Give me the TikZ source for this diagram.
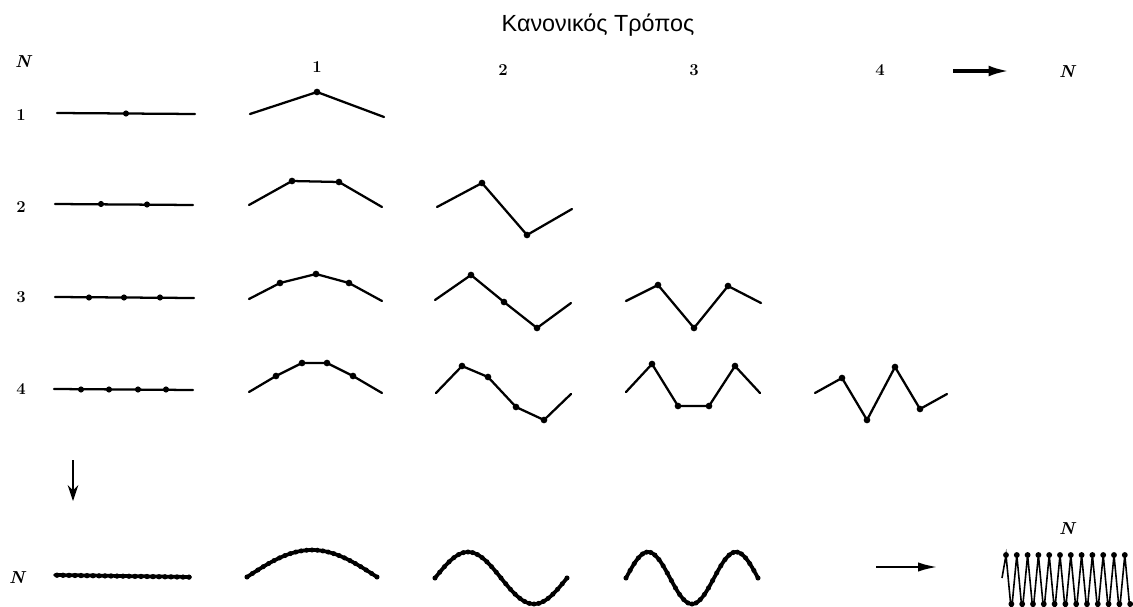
\documentclass[tikz,border=0pt]{standalone}
\usepackage{fontspec}
\newfontfamily\greekfont{Liberation Sans}
\usetikzlibrary{arrows.meta}
\begin{document}
\begin{tikzpicture}[x=0.75pt,y=-0.75pt,
  str/.style={line width=1.7pt,line join=round,line cap=round},
  cont/.style={line width=2.8pt,line join=round,line cap=round},
  zig/.style={line width=1.2pt,line join=miter},
  lab/.style={font=\fontsize{12.5}{15}\selectfont\bfseries,inner sep=0pt},
  nlab/.style={font=\fontsize{13}{15}\selectfont\bfseries\itshape,inner sep=0pt},
  bigarrow/.style={line width=2.8pt,-{Latex[length=16pt,width=8pt]}},
  smallarrow/.style={line width=2pt,-{Latex[length=15pt,width=7pt]}},
  downarrow/.style={line width=1pt,-{Stealth[length=12pt,width=8pt,inset=4pt]}}
]
\useasboundingbox (0,0) rectangle (1133,607);
% title
\node[font=\greekfont\fontsize{17.5}{19}\selectfont,inner sep=0pt,anchor=base] (title) at (598,31) {Κανονικός Τρόπος};
% headers
\node[nlab] (hN) at (23,62) {N};
\node[lab] (h1) at (317,67) {1};
\node[lab] (h2) at (503,70) {2};
\node[lab] (h3) at (694,70) {3};
\node[lab] (h4) at (880,70) {4};
\coordinate (ta) at (953,71);
\coordinate (tb) at (1010,71);
\draw[bigarrow] (ta) -- (tb);
\node[nlab] (hNr) at (1067,72) {N};
% row labels
\node[lab] (r1) at (21,115) {1};
\node[lab] (r2) at (21,207) {2};
\node[lab] (r3) at (21,297) {3};
\node[lab] (r4) at (21,389) {4};
\node[nlab] (rN) at (17,578) {N};
% down arrow
\coordinate (da) at (73,460);
\coordinate (db) at (73,501);
\draw[downarrow] (da) -- (db);

% row 1
\draw[str] (57,113) -- (195,114);
\fill (126,113.5) circle (2.3pt);
\draw[str] (250,114) -- (317,92) -- (384,117);
\fill (317,92) circle (2.5pt);

% row 2
\draw[str] (55,204) -- (193,205);
\foreach \p in {(101,204),(147,204.5)} \fill \p circle (2.3pt);
\draw[str] (249,205) -- (292,181) -- (339,182) -- (382,207);
\foreach \p in {(292,181),(339,182)} \fill \p circle (2.5pt);
\draw[str] (437,207) -- (482,183) -- (527,235) -- (572,209);
\foreach \p in {(482,183),(527,235)} \fill \p circle (2.5pt);

% row 3
\draw[str] (55,297) -- (194,298);
\foreach \x in {89,124,160} \fill (\x,297.5) circle (2.3pt);
\draw[str] (249,299) -- (280,283) -- (316,274) -- (349,283) -- (382,301);
\foreach \p in {(280,283),(316,274),(349,283)} \fill \p circle (2.5pt);
\draw[str] (435,300) -- (471,275) -- (504,302) -- (537,328) -- (571,303);
\foreach \p in {(471,275),(504,302),(537,328)} \fill \p circle (2.5pt);
\draw[str] (626,301) -- (658,285) -- (694,328) -- (728,286) -- (761,303);
\foreach \p in {(658,285),(694,328),(728,286)} \fill \p circle (2.5pt);

% row 4
\draw[str] (54,389) -- (193,390);
\foreach \x in {81,109,138,166} \fill (\x,389.5) circle (2.3pt);
\draw[str] (249,392) -- (276,376) -- (302,363) -- (327,363) -- (353,376) -- (382,393);
\foreach \p in {(276,376),(302,363),(327,363),(353,376)} \fill \p circle (2.5pt);
\draw[str] (436,393) -- (462,366) -- (488,377) -- (516,407) -- (544,420) -- (571,394);
\foreach \p in {(462,366),(488,377),(516,407),(544,420)} \fill \p circle (2.5pt);
\draw[str] (626,392) -- (652,364) -- (678,406) -- (709,406) -- (735,366) -- (760,393);
\foreach \p in {(652,364),(678,406),(709,406),(735,366)} \fill \p circle (2.5pt);
\draw[str] (815,393) -- (842,378) -- (867,420) -- (895,367) -- (920,409) -- (947,394);
\foreach \p in {(842,378),(867,420),(895,367),(920,409)} \fill \p circle (2.5pt);

% row N (continuum)
\draw[cont] (55,575) -- (190,577);
\foreach \i in {0,...,22} \fill ({57+6*\i},{575.2+0.0148*6*\i}) circle (2pt);
\draw[cont] plot[domain=0:1,samples=50] ({247+130*\x},{577-27*sin(180*\x)});
\foreach \i in {0,...,24} \fill ({247+130*(\i/24)},{577-27*sin(180*(\i/24))}) circle (1.9pt);
\draw[cont] plot[domain=0:1,samples=60] ({435+132*\x},{578-26*sin(360*\x)});
\foreach \i in {0,...,28} \fill ({435+132*(\i/28)},{578-26*sin(360*(\i/28))}) circle (1.9pt);
\draw[cont] plot[domain=0:1,samples=70] ({626+132*\x},{578-26*sin(540*\x)});
\foreach \i in {0,...,32} \fill ({626+132*(\i/32)},{578-26*sin(540*(\i/32))}) circle (1.9pt);

% arrow to N
\coordinate (ba) at (876,567);
\coordinate (bb) at (938,567);
\draw[smallarrow] (ba) -- (bb);
\node[nlab] (bN) at (1067,529) {N};
% zigzag
\draw[zig] (1002,578)
  \foreach \k in {0,...,11} { -- ({1006+10.8*\k},555) -- ({1011.4+10.8*\k},612) };
\foreach \k in {0,...,11} {
  \fill ({1006+10.8*\k},555) circle (2.2pt);
  \fill ({1011.4+10.8*\k},604) circle (2.2pt);
}
\end{tikzpicture}
\end{document}
